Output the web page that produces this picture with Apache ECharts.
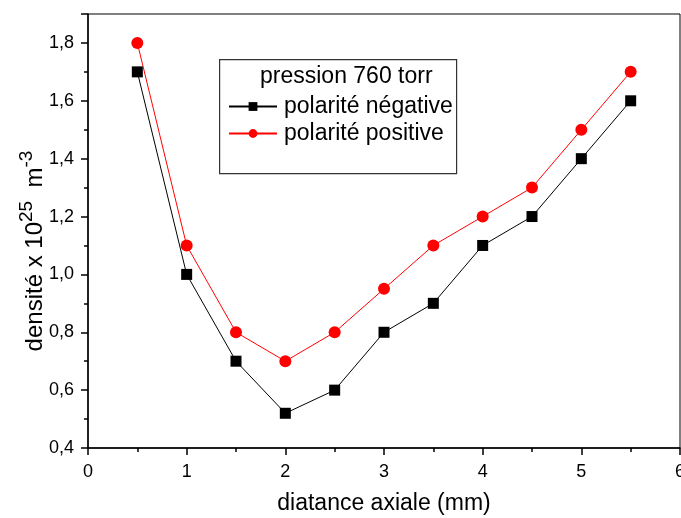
<!DOCTYPE html>
<html>
<head>
<meta charset="utf-8">
<script src="https://cdn.jsdelivr.net/npm/echarts@6/dist/echarts.min.js"></script>
<style>
  html, body { margin: 0; padding: 0; background: #fff; }
  #chart { width: 681px; height: 518px; }
</style>
</head>
<body>
<div id="chart"></div>
<script>
// distance axiale (mm)
const distance = [0.5, 1, 1.5, 2, 2.5, 3, 3.5, 4, 4.5, 5, 5.5];
const negative = [1.7, 1.0, 0.7, 0.52, 0.6, 0.8, 0.9, 1.1, 1.2, 1.4, 1.6];
const positive = [1.8, 1.1, 0.8, 0.7, 0.8, 0.95, 1.1, 1.2, 1.3, 1.5, 1.7];

const FONT = "Liberation Sans, Arial, sans-serif";

let pairs = (ys) => distance.map((x, i) => [x, ys[i]]);

const chart = echarts.init(document.getElementById("chart"));

chart.setOption({
  animation: false,
  textStyle: { fontFamily: FONT },
  grid: {
    left: 88, top: 14, right: 1, bottom: 70,
    outerBoundsMode: "none",
    show: true, borderColor: "#000", borderWidth: 1
  },
  xAxis: {
    type: "value", min: 0, max: 6, interval: 1,
    axisLine: { lineStyle: { color: "#000", width: 1.5 } },
    axisTick: { length: 7, lineStyle: { color: "#000", width: 1.5 } },
    minorTick: { show: true, splitNumber: 2, length: 4, lineStyle: { color: "#000", width: 1.5 } },
    splitLine: { show: false },
    axisLabel: { color: "#000", fontSize: 18, margin: 15, fontFamily: FONT },
    name: "diatance axiale (mm)",
    nameLocation: "middle", nameGap: 44,
    nameTextStyle: { color: "#000", fontSize: 23, fontFamily: FONT }
  },
  yAxis: {
    type: "value", min: 0.4, max: 1.9, interval: 0.2,
    axisLine: { lineStyle: { color: "#000", width: 1.5 } },
    axisTick: { length: 7, lineStyle: { color: "#000", width: 1.5 } },
    minorTick: { show: true, splitNumber: 2, length: 4, lineStyle: { color: "#000", width: 1.5 } },
    splitLine: { show: false },
    axisLabel: {
      color: "#000", fontSize: 18, margin: 14, fontFamily: FONT,
      formatter: (v) => v > 1.85 ? "" : v.toFixed(1).replace(".", ",")
    }
  },
  legend: {
    left: 228, top: 95, orient: "vertical", padding: 0,
    itemWidth: 48, itemHeight: 11, itemGap: 4,
    textStyle: { color: "#000", fontSize: 23, fontFamily: FONT, padding: [0, 0, 0, 2] },
    data: ["polarité négative", "polarité positive"]
  },
  graphic: [
    {
      type: "rect", left: 219, top: 59, z: 1,
      shape: { width: 237, height: 114 },
      style: { fill: "#fff", stroke: "#333", lineWidth: 1.2 }
    },
    {
      type: "text", left: 260, top: 65, z: 2,
      style: { text: "pression 760 torr", fill: "#000", font: "23px " + FONT }
    },
    {
      type: "text", x: 35, y: 251, rotation: Math.PI / 2, z: 2,
      style: {
        text: "densité x 10{sup|25}  m{sup|-3}",
        fill: "#000", font: "24px " + FONT,
        align: "center", verticalAlign: "middle",
        rich: {
          sup: { fontSize: 19, fontFamily: FONT, fill: "#000", verticalAlign: "bottom", padding: [0, 0, 16, 0] }
        }
      }
    }
  ],
  series: [
    {
      name: "polarité négative", type: "line", data: pairs(negative),
      symbol: "rect", symbolSize: 11,
      itemStyle: { color: "#000" },
      lineStyle: { color: "#000", width: 1 },
      z: 3
    },
    {
      name: "polarité positive", type: "line", data: pairs(positive),
      symbol: "circle", symbolSize: 12,
      itemStyle: { color: "#ff0000" },
      lineStyle: { color: "#ff0000", width: 1 },
      z: 3
    }
  ]
});
</script>
</body>
</html>
